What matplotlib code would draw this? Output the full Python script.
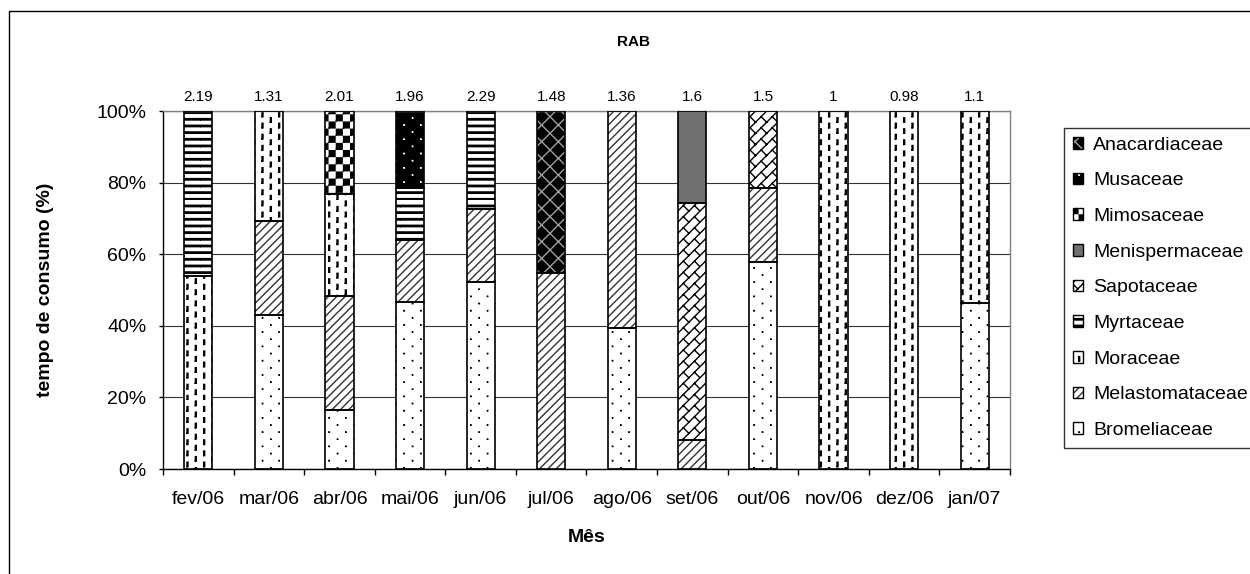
import warnings
import numpy as np
import matplotlib
matplotlib.use('Agg')
import matplotlib.pyplot as plt
import matplotlib.hatch as mhatch
from matplotlib.path import Path
from matplotlib.patches import Patch, Rectangle
from matplotlib.ticker import PercentFormatter, FixedLocator

warnings.filterwarnings('ignore', message='hatch must consist')

plt.rcParams['font.family'] = ['Liberation Sans', 'DejaVu Sans']
plt.rcParams['hatch.linewidth'] = 1.0

# --- DATA: % of feeding time per family and month ---
months = ['fev/06', 'mar/06', 'abr/06', 'mai/06', 'jun/06', 'jul/06',
          'ago/06', 'set/06', 'out/06', 'nov/06', 'dez/06', 'jan/07']
totals = [2.19, 1.31, 2.01, 1.96, 2.29, 1.48, 1.36, 1.6, 1.5, 1, 0.98, 1.1]

bromeliaceae    = [0, 43.0, 16.5, 46.7, 52.2, 0, 39.4, 0, 57.8, 0, 0, 46.3]
melastomataceae = [0, 26.3, 31.8, 17.3, 20.4, 54.7, 60.6, 8.2, 20.7, 0, 0, 0]
moraceae        = [53.9, 30.7, 28.5, 0, 0, 0, 0, 0, 0, 100, 100, 53.7]
myrtaceae       = [46.1, 0, 0, 14.5, 27.4, 0, 0, 0, 0, 0, 0, 0]
sapotaceae      = [0, 0, 0, 0, 0, 0, 0, 66.1, 21.5, 0, 0, 0]
menispermaceae  = [0, 0, 0, 0, 0, 0, 0, 25.7, 0, 0, 0, 0]
mimosaceae      = [0, 0, 23.2, 0, 0, 0, 0, 0, 0, 0, 0, 0]
musaceae        = [0, 0, 0, 21.5, 0, 0, 0, 0, 0, 0, 0, 0]
anacardiaceae   = [0, 0, 0, 0, 0, 45.3, 0, 0, 0, 0, 0, 0]

families = ['Bromeliaceae', 'Melastomataceae', 'Moraceae', 'Myrtaceae', 'Sapotaceae',
            'Menispermaceae', 'Mimosaceae', 'Musaceae', 'Anacardiaceae']
values = [bromeliaceae, melastomataceae, moraceae, myrtaceae, sapotaceae,
          menispermaceae, mimosaceae, musaceae, anacardiaceae]


# --- Excel-like fill patterns (one hatch tile = 1 inch) ---
def box(x, y, w, h):
    return [(x, y), (x + w, y), (x + w, y + h), (x, y + h), (x, y)]

def dots():
    out = []
    for i in range(12):
        for j in range(7):
            y = (j + 0.25 + 0.5 * (i % 2)) / 7
            out.append(box((i + 0.5) / 12, y, 0.002, 0.002))
    return out

def dashes():
    out = []
    for i in range(12):
        off = 0.5 * (i % 2)
        for j in range(9):
            out.append(box((i + 0.5) / 12 - 0.005, (j + off) / 9, 0.01, 0.045))
    return out

def stripes():
    return [box(0, j / 15, 1, 0.014) for j in range(15)]

def checker():
    n = 14
    return [box(i / n + 0.007, j / n + 0.007, 1 / n - 0.014, 1 / n - 0.014)
            for i in range(n) for j in range(n) if (i + j) % 2 == 0]

def bricks():
    n = 9
    out = []
    for i in range(n):
        for j in range(n):
            out.append([(i / n, j / n), ((i + 1) / n, (j + 1) / n)])
            out.append([((i + .5) / n, (j + .5) / n), ((i + 1) / n, j / n)])
    return out

TILES = {':': dots(), '!': dashes(), '=': stripes(), '#': checker(), '~': bricks()}

class TileHatch(mhatch.HatchPatternBase):
    def __init__(self, hatch, density):
        self.shapes = [s for ch, sh in TILES.items() if ch in hatch for s in sh]
        self.num_vertices = sum(len(s) for s in self.shapes)

    def set_vertices_and_codes(self, vertices, codes):
        k = 0
        for s in self.shapes:
            vertices[k:k + len(s)] = s
            codes[k] = Path.MOVETO
            codes[k + 1:k + len(s)] = Path.LINETO
            k += len(s)

mhatch._hatch_types.append(TileHatch)

# (face, hatch, hatch colour)
styles = [('white', ':', 'black'),
          ('white', '////', '#333333'),
          ('white', '!', 'black'),
          ('white', '=', 'black'),
          ('white', '~', 'black'),
          ('#707070', None, '#707070'),
          ('white', '#', 'black'),
          ('black', ':', 'white'),
          ('black', 'xx', '#a0a0a0')]

fig = plt.figure(figsize=(12.5, 5.74), dpi=100)
ax = fig.add_axes([163/1250, 1 - 469/574, 847/1250, 358/574])

x = np.arange(len(months))
bottom = np.zeros(len(months))
handles = []
for name, vals, (fc, h, hc) in zip(families, values, styles):
    vals = np.array(vals, dtype=float)
    m = vals > 0
    ax.bar(x[m], vals[m], 0.4, bottom=bottom[m], color=fc, hatch=h,
           edgecolor=hc, linewidth=0, zorder=2)
    ax.bar(x[m], vals[m], 0.4, bottom=bottom[m], fill=False,
           edgecolor='black', linewidth=1.2, zorder=3)
    bottom += vals
    handles.append((Patch(facecolor=fc, hatch=h, edgecolor=hc, linewidth=0),
                    Patch(fill=False, edgecolor='black', linewidth=1.0)))

for xi, t in zip(x, totals):
    ax.text(xi, 104, f'{t:g}', ha='center', va='center', fontsize=11, clip_on=False)

ax.set_xlim(-0.5, 11.5)
ax.set_ylim(0, 100)
ax.set_yticks(np.arange(0, 101, 20))
ax.yaxis.set_major_formatter(PercentFormatter(decimals=0))
ax.set_xticks(x)
ax.set_xticklabels(months)
ax.xaxis.set_minor_locator(FixedLocator(np.arange(-0.5, 12, 1)))
ax.tick_params(axis='x', which='major', length=0, pad=16, labelsize=14)
ax.tick_params(axis='x', which='minor', length=4, width=1, direction='out')
ax.tick_params(axis='y', length=3, width=1, direction='out', pad=9, labelsize=14)

ax.grid(axis='y', color='#333333', linewidth=0.8, zorder=0)
ax.set_axisbelow(True)
for s in ['left', 'bottom']:
    ax.spines[s].set_color('black')
    ax.spines[s].set_linewidth(1.0)
for s in ['top', 'right']:
    ax.spines[s].set_color('#808080')
    ax.spines[s].set_linewidth(1.0)

fig.text(634/1250, 1 - 42/574, 'RAB', ha='center', va='center',
         fontsize=11, fontweight='bold')
fig.text(46/1250, 1 - 290/574, 'tempo de consumo (%)', rotation=90,
         ha='center', va='center', fontsize=14, fontweight='bold')
fig.text(586.5/1250, 1 - 537/574, 'Mês', ha='center', va='center',
         fontsize=14, fontweight='bold')

leg = fig.legend(handles[::-1], families[::-1], loc='upper left',
                 bbox_to_anchor=(1064/1250, 1 - 128/574), borderaxespad=0,
                 fontsize=14, handlelength=0.55, handleheight=0.55,
                 handletextpad=0.5, labelspacing=0.96, borderpad=0.45,
                 fancybox=False, frameon=True)
leg.get_frame().set_edgecolor('black')
leg.get_frame().set_linewidth(1.0)

# outer chart frame (right and bottom edges fall outside the picture)
fig.patches.append(Rectangle((9/1250, -1), 2, 2 - 11/574, transform=fig.transFigure,
                             fill=False, edgecolor='black', linewidth=1.0))

fig.savefig('out.png', dpi=100)
